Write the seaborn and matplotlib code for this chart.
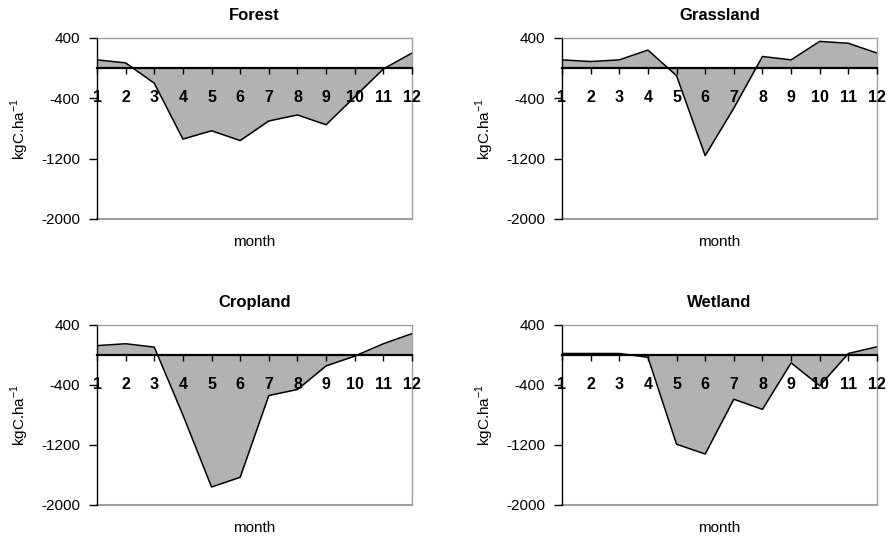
import numpy as np
import pandas as pd
import matplotlib
matplotlib.use("Agg")
import matplotlib.pyplot as plt
import seaborn as sns

# monthly carbon flux per land cover (kgC/ha)
months = list(range(1, 13))
forest = [110, 70, -200, -940, -830, -960, -700, -620, -750, -380, -10, 200]
grassland = [110, 88, 110, 240, -100, -1160, -530, 155, 110, 355, 330, 200]
cropland = [125, 150, 105, -800, -1760, -1630, -540, -460, -145, -15, 150, 285]
wetland = [20, 20, 20, -30, -1190, -1320, -590, -725, -105, -410, 20, 110]

panels = [
    ("Forest", forest, (97, 38, 315, 181)),
    ("Grassland", grassland, (562, 38, 315, 181)),
    ("Cropland", cropland, (97, 325, 315, 180)),
    ("Wetland", wetland, (562, 325, 315, 180)),
]

sns.set_style("white")
plt.rcParams['font.family'] = ['Liberation Sans', 'DejaVu Sans']
plt.rcParams['axes.axisbelow'] = False
plt.rcParams['axes.unicode_minus'] = False
plt.rcParams['text.color'] = 'black'
plt.rcParams['axes.labelcolor'] = 'black'
plt.rcParams['xtick.color'] = 'black'
plt.rcParams['ytick.color'] = 'black'
plt.rcParams['mathtext.fontset'] = 'custom'
plt.rcParams['mathtext.rm'] = 'Liberation Sans'

W, H = 890, 539
fig = plt.figure(figsize=(W / 100, H / 100), dpi=100)

for name, vals, (x0, y0, w, h) in panels:
    ax = fig.add_axes([x0 / W, 1 - (y0 + h) / H, w / W, h / H])
    ax.set_axisbelow(False)
    df = pd.DataFrame({'month': months, 'flux': vals})
    ax.fill_between(df['month'], df['flux'], 0, color='#b2b2b2', lw=0, zorder=1)
    sns.lineplot(data=df, x='month', y='flux', ax=ax, color='black', lw=1.1, zorder=2)

    ax.set_xlim(1, 12)
    ax.set_ylim(-2000, 400)
    ax.set_yticks([400, -400, -1200, -2000])
    ax.set_xticks(months)

    # frame: black left axis, grey box, category axis crossing at zero
    for s in ['top', 'right']:
        ax.spines[s].set_color('#a0a0a0')
        ax.spines[s].set_linewidth(1.0)
    ax.spines['left'].set_color('black')
    ax.spines['left'].set_linewidth(1.0)
    ax.spines['bottom'].set_position(('data', 0))
    ax.spines['bottom'].set_color('black')
    ax.spines['bottom'].set_linewidth(1.6)
    ax.spines['bottom'].set_zorder(5)
    ax.axhline(-2000, color='#a0a0a0', lw=1.5, clip_on=False)

    ax.tick_params(axis='y', direction='out', length=6, width=1, pad=6,
                   labelsize=11, left=True, color='black', labelcolor='black')
    ax.tick_params(axis='x', direction='out', length=4, width=1, pad=12,
                   labelsize=11.5, bottom=True, color='black', labelcolor='black')
    ax.set_xticklabels([str(m) for m in months])
    for lab in ax.get_xticklabels():
        lab.set_fontweight('bold')

    ax.set_title(name, fontweight='bold', fontsize=12, pad=13, color='black')
    ax.set_xlabel('month', fontsize=11)
    ax.set_ylabel(r'kgC.ha$^{\mathregular{-1}}$', fontsize=11)
    ax.xaxis.set_label_coords(0.5, -0.09)
    ax.yaxis.set_label_coords(-0.21, 0.5)

fig.savefig('out.png', dpi=100)
